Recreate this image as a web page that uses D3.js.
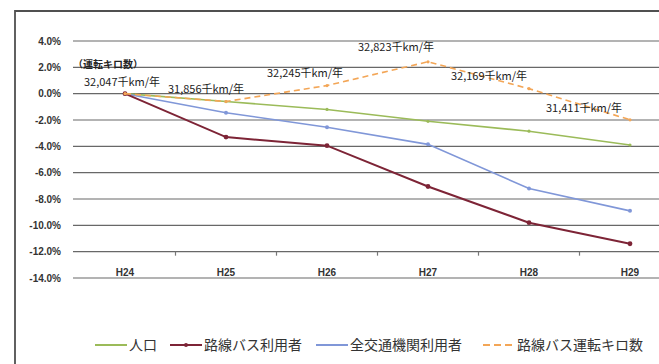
<!DOCTYPE html>
<html>
<head>
<meta charset="utf-8">
<script src="https://cdn.jsdelivr.net/npm/d3@7"></script>
<style>
  html, body { margin: 0; padding: 0; background: #fff; }
  svg { display: block; }
</style>
</head>
<body>
<svg id="chart" width="659" height="364"></svg>
<script>
// Fiscal years (Heisei)
const categories = ["H24", "H25", "H26", "H27", "H28", "H29"];

// Change from H24, in percent
const population = [0, -0.6, -1.2, -2.1, -2.85, -3.9];
const busUsers = [0, -3.3, -3.95, -7.05, -9.8, -11.4];
const transitUsers = [0, -1.45, -2.55, -3.85, -7.2, -8.9];

// Route bus operating distance, thousand km per year
const busKm = [32047, 31856, 32245, 32823, 32169, 31411];

const yTicks = [4, 2, 0, -2, -4, -6, -8, -10, -12, -14];

const seriesNames = ["人口", "路線バス利用者", "全交通機関利用者", "路線バス運転キロ数"];

// Label placement for the distance annotations (relative to each point)
const kmLabelOffsets = [[-3, -8], [-20, -9], [-22, -9], [-32, -11], [-40, -9], [-46, -8]];

const busKmPct = busKm.map(v => (v / busKm[0] - 1) * 100);

const svg = d3.select("#chart");
const W = 659, H = 364;

const x = d3.scalePoint().domain(categories).range([125, 630]);
const y = d3.scaleLinear().domain([-14, 4]).range([278, 41]);
const gridLeft = 73;

// Outer frame
svg.append("path")
  .attr("d", `M15,${H} V11 H${W}`)
  .attr("fill", "none")
  .attr("stroke", "#505050")
  .attr("stroke-width", 1.8);

// Horizontal gridlines
const grid = svg.append("g").attr("class", "grid");
yTicks.forEach(t => {
  grid.append("line")
    .attr("x1", gridLeft).attr("x2", W)
    .attr("y1", y(t)).attr("y2", y(t))
    .attr("stroke", "#686868").attr("stroke-width", 1.2);
});

// Y tick labels
svg.append("g").selectAll("text").data(yTicks).join("text")
  .attr("x", 61).attr("y", d => y(d) + 3.5)
  .attr("text-anchor", "end")
  .attr("font-family", "Liberation Sans, Arial, sans-serif")
  .attr("font-size", 10).attr("font-weight", "bold")
  .attr("fill", "#333")
  .text(d => d.toFixed(1) + "%");

// Small category-boundary ticks
const step = x.step();
const ticks = svg.append("g");
categories.slice(1).forEach(c => {
  ticks.append("line")
    .attr("x1", x(c) - step / 2).attr("x2", x(c) - step / 2)
    .attr("y1", y(-12)).attr("y2", y(-12) + 4)
    .attr("stroke", "#777").attr("stroke-width", 1.2);
});

// Category labels
svg.append("g").selectAll("text").data(categories).join("text")
  .attr("x", d => x(d)).attr("y", y(-14) - 2)
  .attr("text-anchor", "middle")
  .attr("font-family", "Liberation Sans, Arial, sans-serif")
  .attr("font-size", 10).attr("font-weight", "bold")
  .attr("fill", "#333")
  .text(d => d);

const line = d3.line().x((d, i) => x(categories[i])).y(d => y(d));

const series = [
  { values: population, color: "#9bbb59", width: 1.6, dash: null, r: 1.6 },
  { values: transitUsers, color: "#8097d8", width: 1.6, dash: null, r: 2 },
  { values: busUsers, color: "#7d2436", width: 2, dash: null, r: 2.4 },
  { values: busKmPct, color: "#f3a657", width: 1.6, dash: "6,4", r: 1.6 }
];

series.forEach(s => {
  svg.append("path")
    .datum(s.values)
    .attr("d", line)
    .attr("fill", "none")
    .attr("stroke", s.color)
    .attr("stroke-width", s.width)
    .attr("stroke-dasharray", s.dash);
  svg.append("g").selectAll("circle").data(s.values).join("circle")
    .attr("cx", (d, i) => x(categories[i]))
    .attr("cy", d => y(d))
    .attr("r", s.r)
    .attr("fill", s.color);
});

// Distance annotations
const jpFont = "Noto Sans CJK JP, sans-serif";
svg.append("text")
  .attr("x", 73).attr("y", 68)
  .attr("font-family", jpFont).attr("font-size", 10).attr("font-weight", "bold")
  .attr("fill", "#222")
  .text("（運転キロ数）");

svg.append("g").selectAll("text").data(busKm).join("text")
  .attr("x", (d, i) => x(categories[i]) + kmLabelOffsets[i][0])
  .attr("y", (d, i) => y(busKmPct[i]) + kmLabelOffsets[i][1])
  .attr("text-anchor", "middle")
  .attr("font-family", jpFont).attr("font-size", 11)
  .attr("fill", "#222")
  .text(d => d3.format(",")(d) + "千km/年");

// Legend
const legend = [
  { name: seriesNames[0], color: "#9bbb59", dash: null, x: 95, marker: false },
  { name: seriesNames[1], color: "#7d2436", dash: null, x: 170, marker: true },
  { name: seriesNames[2], color: "#8097d8", dash: null, x: 316, marker: false },
  { name: seriesNames[3], color: "#f3a657", dash: "7,4", x: 483, marker: false }
];
const ly = 345;
const lg = svg.append("g");
legend.forEach(l => {
  lg.append("line")
    .attr("x1", l.x).attr("x2", l.x + 32)
    .attr("y1", ly).attr("y2", ly)
    .attr("stroke", l.color).attr("stroke-width", 2)
    .attr("stroke-dasharray", l.dash);
  if (l.marker) {
    lg.append("circle").attr("cx", l.x + 16).attr("cy", ly).attr("r", 2).attr("fill", l.color);
  }
  lg.append("text")
    .attr("x", l.x + 34).attr("y", ly + 5)
    .attr("font-family", jpFont).attr("font-size", 14)
    .attr("fill", "#333")
    .text(l.name);
});
</script>
</body>
</html>
